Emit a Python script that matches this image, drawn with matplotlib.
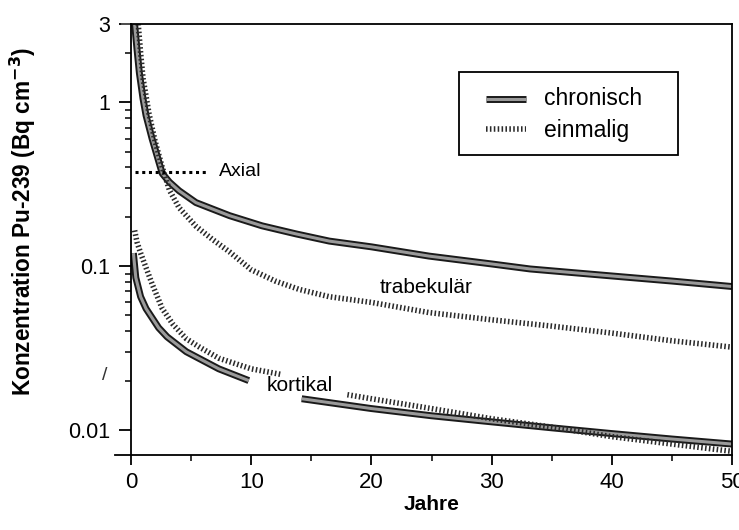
import numpy as np
import matplotlib
matplotlib.use("Agg")
import matplotlib.pyplot as plt
import matplotlib.patheffects as pe
from matplotlib.patches import Rectangle
from matplotlib.ticker import FixedLocator, NullFormatter

plt.rcParams['font.family'] = ['Liberation Sans', 'DejaVu Sans']

# Pu-239 concentration (Bq cm^-3) vs years
trab_chron_x = [0.3, 0.5, 0.7, 1.0, 1.25, 1.75, 2.6, 3.2, 4, 5.4, 8.2, 10.9, 13.75, 16.5, 20, 24.8, 30, 33.2, 40, 45, 50]
trab_chron_y = [3.0, 2.1, 1.5, 1.05, 0.83, 0.60, 0.367, 0.325, 0.288, 0.244, 0.203, 0.176, 0.157, 0.142, 0.131, 0.115, 0.103, 0.096, 0.087, 0.081, 0.075]

trab_einm_x = [0.6, 0.8, 1.0, 1.5, 2.0, 2.6, 3.2, 4, 5.4, 6.8, 8.2, 10, 12, 14, 16.5, 20, 24.8, 30, 35, 40, 45, 50]
trab_einm_y = [3.0, 2.0, 1.4, 0.85, 0.58, 0.40, 0.29, 0.227, 0.175, 0.145, 0.122, 0.095, 0.081, 0.072, 0.065, 0.06, 0.052, 0.047, 0.043, 0.039, 0.035, 0.032]

# gaps (nan) where the label "kortikal" sits
kort_chron_x = [0.2, 0.4, 0.8, 1.25, 2.3, 3.0, 4.6, 7.3, 9.8, np.nan, 14.2, 20, 25, 30, 35, 40, 45, 50]
kort_chron_y = [0.12, 0.085, 0.065, 0.055, 0.042, 0.037, 0.030, 0.0236, 0.020, np.nan, 0.0155, 0.0135, 0.0122, 0.0112, 0.0103, 0.0095, 0.0088, 0.0082]

kort_einm_x = [0.3, 0.5, 0.8, 1.2, 1.75, 2.6, 3.5, 4.6, 5.7, 7.3, 10, 12.5, np.nan, 18, 20, 25, 30, 35, 40, 45, 50]
kort_einm_y = [0.165, 0.14, 0.12, 0.10, 0.078, 0.055, 0.044, 0.036, 0.032, 0.0274, 0.0236, 0.0218, np.nan, 0.0164, 0.0155, 0.0135, 0.0117, 0.0104, 0.0091, 0.0082, 0.0074]

axial_x = [0.3, 6.3]
axial_y = [0.377, 0.377]

y_ticks = [0.01, 0.1, 1, 3]
y_ticklabels = ["0.01", "0.1", "1", "3"]

fig = plt.figure(figsize=(7.39, 5.30), dpi=100)
ax = fig.add_axes([131/739, 75/530, 601/739, 431/530])

chron_fx = [pe.Stroke(linewidth=5, foreground='#1a1a1a'), pe.Normal()]
chron_kw = dict(color='#9a9a9a', lw=2.2, solid_capstyle='butt', path_effects=chron_fx)
einm_kw = dict(color='#2a2a2a', lw=4.0, linestyle=(0, (0.28, 0.42)), dash_capstyle='butt')

ax.plot(trab_chron_x, trab_chron_y, **chron_kw)
ax.plot(kort_chron_x, kort_chron_y, **chron_kw)
ax.plot(trab_einm_x, trab_einm_y, **einm_kw)
ax.plot(kort_einm_x, kort_einm_y, **einm_kw)
ax.plot(axial_x, axial_y, color='black', lw=2.2, linestyle=(0, (1, 1.2)))

ax.set_yscale('log')
ax.set_xlim(0, 50)
ax.set_ylim(0.00703, 3)

ax.set_xticks([0, 10, 20, 30, 40, 50])
ax.set_xticks([5, 15, 25, 35, 45], minor=True)
ax.yaxis.set_major_locator(FixedLocator(y_ticks))
ax.set_yticklabels(y_ticklabels)
minors = [m * d for d in (0.01, 0.1, 1) for m in range(2, 10) if m * d < 3]
ax.yaxis.set_minor_locator(FixedLocator(minors))
ax.yaxis.set_minor_formatter(NullFormatter())

ax.tick_params(axis='x', which='major', direction='out', length=7, width=1.3, labelsize=16, pad=5)
ax.tick_params(axis='y', which='major', direction='out', length=9, width=1.3, labelsize=15.5, pad=6)
ax.tick_params(axis='both', which='minor', direction='out', length=4, width=1.1)
for s in ax.spines.values():
    s.set_linewidth(1.3)
# the scanned axes run a little past the left spine
ax.plot([-0.026, 0], [0, 0], transform=ax.transAxes, color='black', lw=1.3, clip_on=False)
ax.plot([-0.015, 0], [1, 1], transform=ax.transAxes, color='#555555', lw=1.3, clip_on=False)

ax.set_xlabel("Jahre", fontsize=15, fontweight='bold', labelpad=2)
ax.set_ylabel("Konzentration Pu-239 (Bq cm$^{\\mathbf{-3}}$)", fontsize=16.3, fontweight='bold')
ax.yaxis.set_label_coords(-0.155, 0.543)

ax.text(7.3, 0.377, "Axial", fontsize=14, va='center', ha='left')
ax.text(20.7, 0.074, "trabekulär", fontsize=15, va='center', ha='left')
ax.text(11.3, 0.0187, "kortikal", fontsize=15, va='center', ha='left')

# legend box drawn by hand to match the scan's spacing
ax.add_patch(Rectangle((0.546, 0.696), 0.364, 0.193, transform=ax.transAxes,
                       facecolor='white', edgecolor='black', lw=1.3, zorder=5))
ax.plot([0.590, 0.658], [0.826, 0.826], transform=ax.transAxes, zorder=6, **chron_kw)
ax.plot([0.590, 0.658], [0.756, 0.756], transform=ax.transAxes, zorder=6, **einm_kw)
ax.text(0.688, 0.826, "chronisch", transform=ax.transAxes, fontsize=16.5, va='center', ha='left', zorder=6)
ax.text(0.688, 0.752, "einmalig", transform=ax.transAxes, fontsize=16.5, va='center', ha='left', zorder=6)

fig.text(105/739, 1 - 375/530, "/", fontsize=14, color='#333333', ha='center', va='center')

fig.savefig("out.png", dpi=100)
